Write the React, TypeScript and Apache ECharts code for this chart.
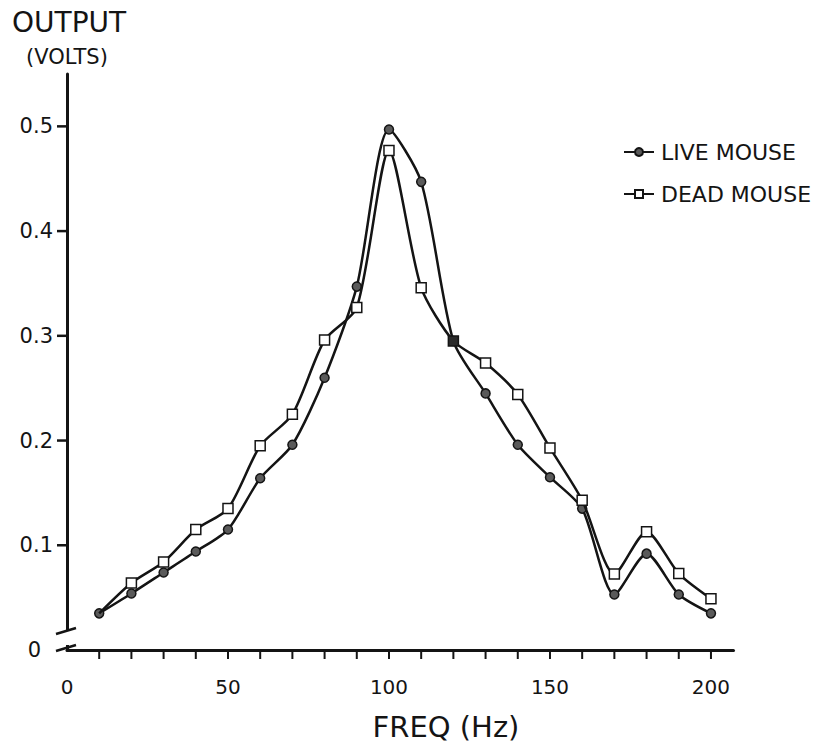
import React, { useEffect, useRef } from "react";
import * as echarts from "echarts";

const freq = [10, 20, 30, 40, 50, 60, 70, 80, 90, 100, 110, 120, 130, 140, 150, 160, 170, 180, 190, 200];
const liveMouse = [0.035, 0.054, 0.074, 0.094, 0.115, 0.164, 0.196, 0.26, 0.347, 0.497, 0.447, 0.295, 0.245, 0.196, 0.165, 0.135, 0.053, 0.092, 0.053, 0.035];
const deadMouse = [0.035, 0.064, 0.084, 0.115, 0.135, 0.195, 0.225, 0.296, 0.327, 0.477, 0.346, 0.295, 0.274, 0.244, 0.193, 0.143, 0.0725, 0.113, 0.073, 0.049];
const xTickValues = [10, 20, 30, 40, 50, 60, 70, 80, 90, 100, 110, 120, 130, 140, 150, 160, 170, 180, 190, 200];
const xLabelValues = [0, 50, 100, 150, 200];
const yTickValues = [0.1, 0.2, 0.3, 0.4, 0.5];
const yLabelValues = [0, 0.1, 0.2, 0.3, 0.4, 0.5];
const seriesNames = ["LIVE MOUSE", "DEAD MOUSE"];

const FONT = '"DejaVu Sans", sans-serif';
const INK = "#141414";
const X_OFFSET = 9;

export default function App() {
  const ref = useRef<HTMLDivElement>(null);
  useEffect(() => {
    if (!ref.current) return;
    const chart = echarts.init(ref.current, undefined, { renderer: "svg" });
    const liveData = freq.map((f, i) => [f, liveMouse[i]]);
    const deadData = freq.map((f, i) => {
      const item: any = { value: [f, deadMouse[i]] };
      if (i === 0) item.symbol = "none";
      if (f === 120) item.itemStyle = { color: "#2a2a2a" };
      return item;
    });
    const baseGraphic: any[] = [
      { type: "text", x: 12, y: 22, z: 100, style: { text: "OUTPUT", fontSize: 28, fontFamily: FONT, fill: INK, verticalAlign: "middle" } },
      { type: "text", x: 26, y: 57, z: 100, style: { text: "(VOLTS)", fontSize: 21, fontFamily: FONT, fill: INK, verticalAlign: "middle" } },
      { type: "text", x: 446, y: 727, z: 100, style: { text: "FREQ (Hz)", fontSize: 29, fontFamily: FONT, fill: INK, align: "center", verticalAlign: "middle" } },
      { type: "rect", z: 100, shape: { x: 59, y: 631, width: 16, height: 14 }, style: { fill: "#fff" } },
      { type: "line", z: 101, shape: { x1: 56, y1: 634, x2: 76, y2: 628 }, style: { stroke: INK, lineWidth: 2.5 } },
      { type: "line", z: 101, shape: { x1: 56, y1: 651, x2: 76, y2: 645 }, style: { stroke: INK, lineWidth: 2.5 } },
    ];
    chart.setOption({
      animation: false,
      backgroundColor: "#fff",
      grid: { left: 67, right: 84.5, top: 74, bottom: 98, containLabel: false },
      xAxis: {
        type: "value",
        min: 0,
        max: 207,
        offset: X_OFFSET,
        splitLine: { show: false },
        axisLine: { show: true, lineStyle: { color: INK, width: 3 } },
        axisTick: { show: false },
        axisLabel: { customValues: xLabelValues, color: INK, fontSize: 20, fontFamily: FONT, margin: 18 },
      },
      yAxis: {
        type: "value",
        min: 0,
        max: 0.55,
        splitLine: { show: false },
        axisLine: { show: true, lineStyle: { color: INK, width: 3 } },
        axisTick: { show: false },
        axisLabel: {
          customValues: yLabelValues,
          color: INK,
          fontSize: 21,
          fontFamily: FONT,
          margin: 14,
          formatter: (v: number) => (v === 0 ? "{z|0}" : v.toFixed(1)),
          rich: { z: { fontSize: 21, fontFamily: FONT, color: INK, padding: [0, 12, 0, 0] } },
        },
      },
      legend: {
        data: seriesNames,
        orient: "vertical",
        left: 618,
        top: 136,
        itemWidth: 30,
        itemHeight: 10,
        itemGap: 20,
        textStyle: { color: INK, fontSize: 22, fontFamily: FONT, padding: [0, 0, 0, 2] },
      },
      series: [
        {
          name: seriesNames[0],
          type: "line",
          data: liveData,
          smooth: 0.25,
          symbol: "circle",
          symbolSize: 9,
          lineStyle: { color: INK, width: 2.5 },
          itemStyle: { color: "#5a5a5a", borderColor: INK, borderWidth: 1.5 },
          z: 3,
        },
        {
          name: seriesNames[1],
          type: "line",
          data: deadData,
          smooth: 0.25,
          symbol: "rect",
          symbolSize: 10,
          lineStyle: { color: INK, width: 2.5 },
          itemStyle: { color: "#ffffff", borderColor: INK, borderWidth: 1.5 },
          z: 4,
        },
        {
          name: "xTicks",
          type: "custom",
          silent: true,
          clip: false,
          z: 5,
          data: [[100, 0.2]],
          renderItem: (_params: any, api: any) => {
            const children: any[] = [];
            xTickValues.forEach((v) => {
              const p = api.coord([v, 0]);
              children.push({
                type: "line",
                shape: { x1: p[0], y1: p[1] + X_OFFSET, x2: p[0], y2: p[1] + X_OFFSET - 9 },
                style: { stroke: INK, lineWidth: 2 },
              });
            });
            return { type: "group", children };
          },
        },
      ],
      graphic: baseGraphic,
    });
    const yTickGraphic: any[] = [];
    const axisX = Number(chart.convertToPixel({ xAxisIndex: 0 }, 0));
    yTickValues.forEach((v) => {
      const y = Number(chart.convertToPixel({ yAxisIndex: 0 }, v));
      if (isFinite(axisX) && isFinite(y)) {
        yTickGraphic.push({
          type: "line",
          z: 102,
          shape: { x1: axisX - 10, y1: y, x2: axisX + 1, y2: y },
          style: { stroke: INK, lineWidth: 2.5 },
        });
      }
    });
    chart.setOption({ graphic: [...baseGraphic, ...yTickGraphic] });
    return () => chart.dispose();
  }, []);
  return <div ref={ref} style={{ position: "fixed", left: 0, top: 0, width: 818, height: 748, background: "#fff" }} />;
}
